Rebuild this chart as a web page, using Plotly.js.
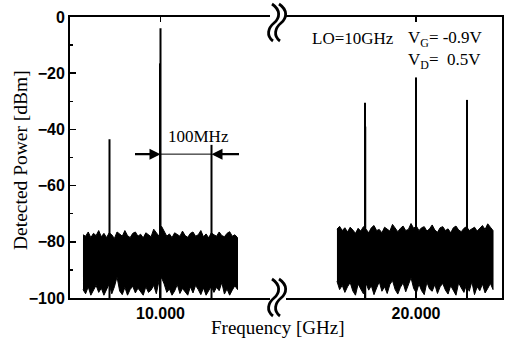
<!DOCTYPE html>
<html>
<head>
<meta charset="utf-8">
<script src="https://cdn.plot.ly/plotly-3.0.1.min.js"></script>
<style>html,body{margin:0;padding:0;background:#fff;}#chart{width:506px;height:341px;}</style>
</head>
<body>
<div id="chart"></div>
<script>
// ---- data ----
var spikeFreqLeft  = [9.9, 9.999, 10.0, 10.1];      // GHz
var spikePowerLeft = [-43.5, -16.5, -4, -45.5];       // dBm
var spikeFreqRight  = [19.9, 19.9005, 20.0, 20.1];
var spikePowerRight = [-30.5, -39, -21.5, -29.5];
var spikeFloor = -100;

var leftBand = [9.848, 10.151];    // noise band span, GHz
var rightBand = [19.845, 20.151];

var leftTop = [-77.5,-78,-76.5,-78.5,-77,-77.8,-76,-78.2,-77,-78.5,-76.8,-77.5,-78.8,-76.5,-77.2,-78,-76,-77.8,-78.5,-77,-76.5,-78,-77.3,-78.6,-76.8,-77.5,-78.2,-75.5,-77,-78,-74.5,-76.5,-78,-77.2,-78.5,-76.8,-77.5,-78,-76.2,-77.8,-78.4,-77,-76.5,-78,-77.5,-76,-78.2,-77.2,-78.6,-76.8,-77.5,-78,-76.5,-77.8,-78.2,-77,-76.4,-78,-77.5,-78.5];
var leftBot = [-97,-98.5,-96,-99,-97.5,-95.5,-98,-96.5,-99,-97,-95,-98.5,-96,-92.5,-97.5,-98.8,-96.2,-99,-97,-95.8,-98.2,-96.5,-97.8,-99,-96,-98,-97.2,-95.5,-98.5,-94,-92.8,-95,-98,-96.8,-99,-97.5,-95.2,-98.4,-96.6,-97.8,-99,-96,-98.2,-95.5,-97,-98.8,-96.4,-99,-97.6,-95.8,-98,-96.2,-97.4,-94.5,-98.6,-96.8,-99,-97.2,-95.6,-97];
var rightTop = [-75.5,-74.5,-76,-75,-76.5,-74.8,-75.8,-77,-75.2,-76.2,-74.6,-75.5,-76.8,-75,-74.2,-76,-75.6,-76.8,-74.8,-75.4,-76.2,-73.8,-75,-76.4,-75.2,-74.4,-76,-75.6,-73.5,-75.2,-74.4,-76,-75,-74.6,-76.2,-75.4,-74,-75.8,-76.6,-75,-74.6,-76,-75.4,-76.8,-75,-74.4,-75.8,-76.4,-75.2,-74.6,-76,-75.4,-74.8,-76.2,-75,-74.2,-75.6,-73.6,-74.8,-76];
var rightBot = [-94,-97,-95.5,-98,-96,-94.5,-97.5,-99,-95,-96.8,-98.5,-94.8,-97.2,-95.6,-98.8,-96.4,-94.2,-97.6,-96,-98.4,-95.2,-93.8,-97,-98.6,-96.2,-94.6,-97.8,-95.4,-92.8,-96.6,-98.2,-95,-97.4,-98.8,-94.4,-96.8,-97.6,-95.2,-98.4,-96,-94.8,-97.2,-98.6,-95.6,-97,-99,-94.6,-96.4,-98,-95.2,-97.6,-94.2,-98.8,-96,-97.4,-95,-98.2,-96.6,-94.8,-97];

var yTickVals = [0, -20, -40, -60, -80, -100];
var xTickLeft = [10], xTickLeftText = ['10.000'];
var xTickRight = [20], xTickRightText = ['20.000'];
var arrowLevel = -48.8;

// ---- helpers ----
function grid(span, n) {
  var out = [];
  for (var i = 0; i < n; i++) out.push(span[0] + (span[1] - span[0]) * i / (n - 1));
  return out;
}
function bandPolygon(span, top, bot) {
  var xs = grid(span, top.length);
  var x = xs.concat(xs.slice().reverse());
  var y = top.concat(bot.slice().reverse());
  return {x: x, y: y};
}
function spikeLines(freqs, powers) {
  var x = [], y = [];
  for (var i = 0; i < freqs.length; i++) {
    x.push(freqs[i], freqs[i], null);
    y.push(spikeFloor, powers[i], null);
  }
  return {x: x, y: y};
}

var lb = bandPolygon(leftBand, leftTop, leftBot);
var rb = bandPolygon(rightBand, rightTop, rightBot);
var ls = spikeLines(spikeFreqLeft, spikePowerLeft);
var rs = spikeLines(spikeFreqRight, spikePowerRight);

var traces = [
  {x: lb.x, y: lb.y, xaxis: 'x', yaxis: 'y', mode: 'lines', fill: 'toself', fillcolor: '#000',
   line: {color: '#000', width: 1}, hoverinfo: 'skip'},
  {x: rb.x, y: rb.y, xaxis: 'x2', yaxis: 'y2', mode: 'lines', fill: 'toself', fillcolor: '#000',
   line: {color: '#000', width: 1}, hoverinfo: 'skip'},
  {x: ls.x, y: ls.y, xaxis: 'x', yaxis: 'y', mode: 'lines', line: {color: '#000', width: 2}, connectgaps: false},
  {x: rs.x, y: rs.y, xaxis: 'x2', yaxis: 'y2', mode: 'lines', line: {color: '#000', width: 2}, connectgaps: false}
];

// plot area geometry (px) for decorative placements
var L = 70, R = 4, T = 17, B = 43, W = 506, H = 341;
var PW = W - L - R, PH = H - T - B;
function px(xp) { return (xp - L) / PW; }
function py(yp) { return (H - B - yp) / PH; }

function breakPath(dy) {
  // two S-shaped strokes, pixel coords converted to paper
  var s = '';
  [0, 7].forEach(function (dx) {
    var p = [[272, 4], [281, 10], [280, 18], [274, 23], [268, 28], [266, 36], [273, 41]];
    p = p.map(function (q) { return [px(q[0] + dx), py(q[1] + dy)]; });
    s += 'M' + p[0][0] + ',' + p[0][1] +
         ' C' + p[1][0] + ',' + p[1][1] + ' ' + p[2][0] + ',' + p[2][1] + ' ' + p[3][0] + ',' + p[3][1] +
         ' C' + p[4][0] + ',' + p[4][1] + ' ' + p[5][0] + ',' + p[5][1] + ' ' + p[6][0] + ',' + p[6][1] + ' ';
  });
  return s;
}

var tickFont = {family: 'Liberation Sans, Arial, sans-serif', size: 16, color: '#000', weight: 'bold'};
var serif = 'Liberation Serif, Times New Roman, serif';

var axisCommon = {
  showline: true, linecolor: '#000', linewidth: 2, showgrid: false, zeroline: false,
  ticks: 'inside', tickcolor: '#000', tickwidth: 1.5, ticklen: 5, tickfont: tickFont, fixedrange: true
};

var layout = {
  width: W, height: H,
  margin: {l: L, r: R, t: T, b: B, pad: 0},
  paper_bgcolor: '#fff', plot_bgcolor: '#fff',
  showlegend: false,
  xaxis: Object.assign({}, axisCommon, {domain: [0, px(270)], range: [9.82255, 10.2147], anchor: 'y',
    mirror: 'ticks', tickmode: 'array', tickvals: xTickLeft, ticktext: xTickLeftText}),
  xaxis2: Object.assign({}, axisCommon, {domain: [px(286), 1], range: [19.7451, 20.1686], anchor: 'y2',
    mirror: 'ticks', tickmode: 'array', tickvals: xTickRight, ticktext: xTickRightText}),
  yaxis: Object.assign({}, axisCommon, {range: [-100, 0], anchor: 'x', tickmode: 'array', tickvals: yTickVals,
    ticklen: 6, minor: {ticks: 'inside', ticklen: 3, tickcolor: '#000', tickwidth: 1.5, dtick: 10, tick0: 0}}),
  yaxis2: {range: [-100, 0], anchor: 'x2', side: 'right', showline: true, linecolor: '#000', linewidth: 2,
    showgrid: false, zeroline: false, showticklabels: false, ticks: '', fixedrange: true},
  shapes: [
    {type: 'path', xref: 'paper', yref: 'paper', path: breakPath(0), line: {color: '#000', width: 2.8}, layer: 'above'},
    {type: 'path', xref: 'paper', yref: 'paper', path: breakPath(275), line: {color: '#000', width: 2.8}, layer: 'above'},
    {type: 'line', xref: 'x', yref: 'y', x0: spikeFreqLeft[2], x1: spikeFreqLeft[3], y0: arrowLevel, y1: arrowLevel,
     line: {color: '#000', width: 1}}
  ],
  annotations: [
    {xref: 'x', yref: 'y', x: spikeFreqLeft[2], y: arrowLevel, ax: -27, ay: 0, text: '', showarrow: true,
     arrowhead: 2, arrowsize: 1, arrowwidth: 2.2, arrowcolor: '#000', standoff: 0},
    {xref: 'x', yref: 'y', x: spikeFreqLeft[3], y: arrowLevel, ax: 29, ay: 0, text: '', showarrow: true,
     arrowhead: 2, arrowsize: 1, arrowwidth: 2.2, arrowcolor: '#000', standoff: 0},
    {xref: 'x', yref: 'y', x: (spikeFreqLeft[2] + spikeFreqLeft[3]) / 2, y: -42.7, xshift: 12, text: '100MHz',
     showarrow: false, font: {family: serif, size: 17, color: '#000'}},
    {xref: 'paper', yref: 'paper', x: px(310), y: py(39), xanchor: 'left', yanchor: 'middle', text: 'LO=10GHz',
     showarrow: false, font: {family: serif, size: 17, color: '#000'}},
    {xref: 'paper', yref: 'paper', x: px(406), y: py(39), xanchor: 'left', yanchor: 'middle',
     text: 'V<sub>G</sub>= -0.9V', showarrow: false, font: {family: serif, size: 17, color: '#000'}},
    {xref: 'paper', yref: 'paper', x: px(406), y: py(61), xanchor: 'left', yanchor: 'middle',
     text: 'V<sub>D</sub>=\u00A0\u00A00.5V', showarrow: false, font: {family: serif, size: 17, color: '#000'}},
    {xref: 'paper', yref: 'paper', x: px(277), y: py(327), xanchor: 'center', yanchor: 'middle',
     text: 'Frequency [GHz]', showarrow: false, font: {family: serif, size: 19, color: '#000'}},
    {xref: 'paper', yref: 'paper', x: px(20), y: py(160), xanchor: 'center', yanchor: 'middle', textangle: -90,
     text: 'Detected Power [dBm]', showarrow: false, font: {family: serif, size: 19.5, color: '#000'}}
  ]
};

Plotly.newPlot('chart', traces, layout, {staticPlot: true, displayModeBar: false});
</script>
</body>
</html>
